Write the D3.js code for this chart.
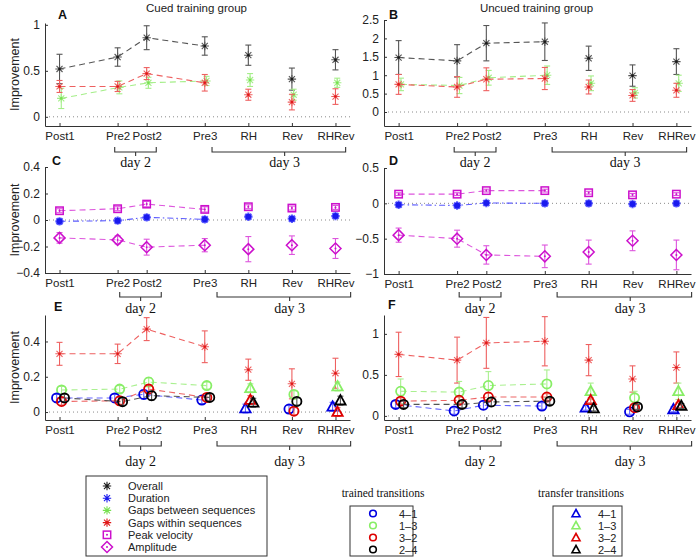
<!DOCTYPE html>
<html><head><meta charset="utf-8">
<script src="https://cdn.jsdelivr.net/npm/d3@7"></script>
<style>body{margin:0;background:#fff}svg{display:block}</style>
</head><body>
<svg id="chart" width="699" height="559"></svg>
<script>
// ---------------- DATA ----------------
const categories = ["Post1","Pre2","Post2","Pre3","RH","Rev","RHRev"];
const xPositions = [1,3,4,6,7.5,9,10.5];
const transitionKind = ["trained","trained","trained","trained","transfer","trained","transfer"];

// Panel A (cued) / B (uncued)
const overallCued = [0.52,0.65,0.86,0.77,0.67,0.41,0.62];
const overallCuedErr = [0.16,0.10,0.13,0.10,0.11,0.12,0.11];
const betweenCued = [0.20,0.32,0.37,0.39,0.40,0.24,0.37];
const betweenCuedErr = [0.11,0.07,0.06,0.05,0.07,0.06,0.05];
const withinCued = [0.33,0.33,0.47,0.37,0.24,0.16,0.22];
const withinCuedErr = [0.065,0.055,0.065,0.09,0.06,0.085,0.085];

const overallUncued = [1.48,1.39,1.87,1.91,1.46,0.99,1.37];
const overallUncuedErr = [0.46,0.44,0.48,0.51,0.33,0.29,0.35];
const betweenUncued = [0.75,0.72,0.93,1.00,0.78,0.52,0.78];
const betweenUncuedErr = [0.17,0.22,0.20,0.25,0.20,0.14,0.22];
const withinUncued = [0.75,0.68,0.89,0.91,0.68,0.45,0.59];
const withinUncuedErr = [0.27,0.28,0.31,0.30,0.19,0.16,0.19];

// Panel C (cued) / D (uncued)
const peakCued = [0.07,0.085,0.12,0.08,0.10,0.09,0.095];
const peakCuedErr = [0.015,0.015,0.02,0.02,0.015,0.015,0.015];
const durationCued = [-0.01,-0.005,0.02,0.005,0.025,0.01,0.03];
const durationCuedErr = [0.01,0.01,0.01,0.01,0.01,0.01,0.01];
const amplitudeCued = [-0.135,-0.15,-0.205,-0.19,-0.22,-0.19,-0.215];
const amplitudeCuedErr = [0.04,0.03,0.06,0.05,0.095,0.07,0.075];

const peakUncued = [0.13,0.13,0.18,0.18,0.15,0.12,0.13];
const peakUncuedErr = [0.02,0.02,0.02,0.02,0.02,0.02,0.02];
const durationUncued = [-0.02,-0.03,0.005,0.0,0.0,-0.01,0.0];
const durationUncuedErr = [0.015,0.015,0.015,0.015,0.015,0.015,0.015];
const amplitudeUncued = [-0.45,-0.50,-0.73,-0.75,-0.69,-0.53,-0.73];
const amplitudeUncuedErr = [0.10,0.12,0.13,0.16,0.17,0.14,0.21];

// Panel E (cued) / F (uncued) transitions
const t41Cued = [0.08,0.08,0.10,0.068,0.02,0.017,0.03];
const t13Cued = [0.125,0.13,0.17,0.15,0.135,0.10,0.145];
const t32Cued = [0.06,0.064,0.13,0.083,0.068,0.005,0.0];
const t24Cued = [0.08,0.059,0.093,0.083,0.053,0.06,0.065];
const tCuedErr = [0.02,0.02,0.025,0.02,0.025,0.02,0.025];

const t41Uncued = [0.14,0.06,0.13,0.12,0.10,0.05,0.08];
const t13Uncued = [0.30,0.29,0.37,0.39,0.30,0.22,0.30];
const t13UncuedErr = [0.15,0.13,0.17,0.17,0.10,0.08,0.10];
const t32Uncued = [0.18,0.19,0.23,0.23,0.19,0.10,0.13];
const t24Uncued = [0.14,0.14,0.17,0.18,0.09,0.11,0.12];
const tUncuedErr = [0.04,0.04,0.05,0.04,0.03,0.03,0.03];

// ticks
const ticksA = [0,0.5,1];
const ticksB = [0,0.5,1,1.5,2,2.5];
const ticksC = [-0.4,-0.2,0,0.2,0.4];
const ticksD = [-1,-0.5,0,0.5];
const ticksE = [0,0.2,0.4];
const ticksF = [0,0.5,1];

const mainLegendLabels = ["Overall","Duration","Gaps between sequences","Gaps within sequences","Peak velocity","Amplitude"];
const transitionLabels = ["4\u20131","1\u20133","3\u20132","2\u20134"];

// ---------------- STYLE ----------------
const C = {
  black:{m:"#1a1a1a", l:"#555555"},
  blue:{m:"#1a1aee", l:"#5a5aff"},
  green:{m:"#77e050", l:"#a4ee88"},
  red:{m:"#e01818", l:"#ee6060"},
  magenta:{m:"#cc10cc", l:"#dd55dd"},
  tblue:{m:"#0000e0", l:"#6666ff"},
  tgreen:{m:"#88ee66", l:"#aaf090"},
  tred:{m:"#dd0000", l:"#ee6666"},
  tblack:{m:"#000000", l:"#555555"}
};
const FONT = "Liberation Sans, Arial, Helvetica, sans-serif";
const SERIF = "Liberation Serif, Times New Roman, serif";

const svg = d3.select("#chart");

function xScale(col){ return d3.scaleLinear().domain([0.5,11]).range(col===0?[45,350]:[384,691]); }

function drawMarker(g, type, cx, cy, col, big){
  const m = col.m, l = col.l;
  if(type==="star"){
    const s = 4.2, d = s*0.72;
    const p = `M${cx-s},${cy}L${cx+s},${cy}M${cx},${cy-s}L${cx},${cy+s}M${cx-d},${cy-d}L${cx+d},${cy+d}M${cx-d},${cy+d}L${cx+d},${cy-d}`;
    g.append("path").attr("d",p).attr("stroke",l).attr("stroke-width",big?2.2:1.1).attr("fill","none");
    g.append("circle").attr("cx",cx).attr("cy",cy).attr("r",big?3:1.3).attr("fill",m);
  } else if(type==="square"){
    g.append("rect").attr("x",cx-3.7).attr("y",cy-3.7).attr("width",7.4).attr("height",7.4)
      .attr("fill","none").attr("stroke",m).attr("stroke-width",1.5);
    g.append("circle").attr("cx",cx).attr("cy",cy).attr("r",1).attr("fill",m);
  } else if(type==="diamond"){
    const s=5.5;
    g.append("path").attr("d",`M${cx},${cy-s}L${cx+s},${cy}L${cx},${cy+s}L${cx-s},${cy}Z`)
      .attr("fill","none").attr("stroke",m).attr("stroke-width",1.5);
    g.append("circle").attr("cx",cx).attr("cy",cy).attr("r",1).attr("fill",m);
  } else if(type==="circle"){
    g.append("circle").attr("cx",cx).attr("cy",cy).attr("r",4.6)
      .attr("fill","none").attr("stroke",m).attr("stroke-width",1.8);
  } else if(type==="triangle"){
    const s=5.2;
    g.append("path").attr("d",`M${cx},${cy-s*1.05}L${cx+s},${cy+s*0.75}L${cx-s},${cy+s*0.75}Z`)
      .attr("fill","none").attr("stroke",m).attr("stroke-width",1.8);
  }
}

function drawSeries(g, x, y, s){
  const pts = s.values.map((v,i)=>({x:x(xPositions[i]+s.offset), y:y(v), e:s.errors[i], v:v, i:i}));
  const line = d3.line().x(d=>d.x).y(d=>d.y);
  g.append("path").attr("d",line(pts.slice(0,4))).attr("fill","none")
    .attr("stroke",s.col.l).attr("stroke-width",1.1).attr("stroke-dasharray",s.dash||"6,4");
  pts.forEach(p=>{
    const y1=y(p.v+p.e), y2=y(p.v-p.e);
    g.append("line").attr("x1",p.x).attr("x2",p.x).attr("y1",y1).attr("y2",y2).attr("stroke",s.col.l).attr("stroke-width",1.1);
    [y1,y2].forEach(yy=>g.append("line").attr("x1",p.x-3).attr("x2",p.x+3).attr("y1",yy).attr("y2",yy).attr("stroke",s.col.l).attr("stroke-width",1.1));
  });
  pts.forEach(p=>{
    const type = s.markerFn ? s.markerFn(p.i) : s.marker;
    drawMarker(g, type, p.x, p.y, s.col, s.big);
  });
}

const rows = [
  {bar:152, text:167, shift:0},
  {bar:297, text:313, shift:5},
  {bar:446, text:466, shift:5}
];

const tm = i => transitionKind[i]==="trained" ? "circle" : "triangle";

const panels = [
  {letter:"A", col:0, row:0, range:[126,23], domain:[-0.1,1.02], ticks:ticksA, title:"Cued training group", ylabel:true, lx:58, ly:19,
   series:[
     {values:overallCued, errors:overallCuedErr, col:C.black, marker:"star", offset:0},
     {values:betweenCued, errors:betweenCuedErr, col:C.green, marker:"star", offset:0.06},
     {values:withinCued, errors:withinCuedErr, col:C.red, marker:"star", offset:0}
   ]},
  {letter:"B", col:1, row:0, range:[126,20], domain:[-0.38,2.5], ticks:ticksB, title:"Uncued training group", ylabel:false, lx:389, ly:19,
   series:[
     {values:overallUncued, errors:overallUncuedErr, col:C.black, marker:"star", offset:0},
     {values:betweenUncued, errors:betweenUncuedErr, col:C.green, marker:"star", offset:0.08},
     {values:withinUncued, errors:withinUncuedErr, col:C.red, marker:"star", offset:0}
   ]},
  {letter:"C", col:0, row:1, range:[273,167], domain:[-0.4,0.4], ticks:ticksC, ylabel:true, lx:52, ly:165,
   series:[
     {values:peakCued, errors:peakCuedErr, col:C.magenta, marker:"square", offset:0},
     {values:durationCued, errors:durationCuedErr, col:C.blue, marker:"star", big:true, offset:0, dash:"6,3,1.5,3"},
     {values:amplitudeCued, errors:amplitudeCuedErr, col:C.magenta, marker:"diamond", offset:0}
   ]},
  {letter:"D", col:1, row:1, range:[274,168], domain:[-1,0.5], ticks:ticksD, ylabel:false, lx:389, ly:165,
   series:[
     {values:peakUncued, errors:peakUncuedErr, col:C.magenta, marker:"square", offset:0},
     {values:durationUncued, errors:durationUncuedErr, col:C.blue, marker:"star", big:true, offset:0, dash:"6,3,1.5,3"},
     {values:amplitudeUncued, errors:amplitudeUncuedErr, col:C.magenta, marker:"diamond", offset:0}
   ]},
  {letter:"E", col:0, row:2, range:[420,315], domain:[-0.045,0.55], ticks:ticksE, ylabel:true, lx:54, ly:311,
   series:[
     {values:withinCued, errors:withinCuedErr, col:C.red, marker:"star", offset:0},
     {values:t13Cued, errors:tCuedErr, col:C.tgreen, markerFn:tm, offset:0.07},
     {values:t41Cued, errors:tCuedErr, col:C.tblue, markerFn:tm, offset:-0.1},
     {values:t32Cued, errors:tCuedErr, col:C.tred, markerFn:tm, offset:0.07},
     {values:t24Cued, errors:tCuedErr, col:C.tblack, markerFn:tm, offset:0.17}
   ]},
  {letter:"F", col:1, row:2, range:[420,315], domain:[-0.05,1.23], ticks:ticksF, ylabel:false, lx:388, ly:309,
   series:[
     {values:withinUncued, errors:withinUncuedErr, col:C.red, marker:"star", offset:0},
     {values:t13Uncued, errors:t13UncuedErr, col:C.tgreen, markerFn:tm, offset:0.07},
     {values:t41Uncued, errors:tUncuedErr, col:C.tblue, markerFn:tm, offset:-0.1},
     {values:t32Uncued, errors:tUncuedErr, col:C.tred, markerFn:tm, offset:0.07},
     {values:t24Uncued, errors:tUncuedErr, col:C.tblack, markerFn:tm, offset:0.17}
   ]}
];

const fmt = d3.format("~g");

panels.forEach(P=>{
  const x = xScale(P.col);
  const y = d3.scaleLinear().domain(P.domain).range(P.range);
  const g = svg.append("g");
  const xr = x.range();
  const yb = P.range[0];

  g.append("line").attr("x1",xr[0]).attr("x2",xr[1]).attr("y1",y(0)).attr("y2",y(0))
    .attr("stroke","#8a8a8a").attr("stroke-width",1).attr("stroke-dasharray","1,3");

  const ya = d3.axisLeft(y).tickValues(P.ticks).tickFormat(fmt).tickSizeInner(-3).tickSizeOuter(0).tickPadding(5);
  const gy = g.append("g").attr("transform",`translate(${xr[0]},0)`).call(ya);
  const xa = d3.axisBottom(x).tickValues(xPositions).tickFormat((d,i)=>categories[i]).tickSizeInner(-3).tickSizeOuter(0).tickPadding(6);
  const gx = g.append("g").attr("transform",`translate(0,${yb})`).call(xa);
  [gx,gy].forEach(a=>{
    a.selectAll("path,line").attr("stroke","#333").attr("stroke-width",1);
    a.selectAll("text").attr("font-family",FONT).attr("font-size",11.5).attr("fill","#222");
  });
  gy.selectAll("text").attr("font-size",12);

  P.series.forEach(s=>drawSeries(g, x, y, s));

  g.append("text").attr("x",P.lx).attr("y",P.ly).text(P.letter)
    .attr("font-family",FONT).attr("font-weight","bold").attr("font-size",12.5).attr("fill","#111");
  if(P.title){
    g.append("text").attr("x",(xr[0]+xr[1])/2-1).attr("y",12).attr("text-anchor","middle").text(P.title)
      .attr("font-family",FONT).attr("font-size",11.5).attr("fill","#222");
  }
  if(P.ylabel){
    g.append("text").attr("transform",`translate(19,${(P.range[0]+P.range[1])/2}) rotate(-90)`)
      .attr("text-anchor","middle").text("Improvement")
      .attr("font-family",FONT).attr("font-size",12.5).attr("fill","#222");
  }

  const R = rows[P.row];
  const brackets = [
    {a:2.9, b:4.33, t:3.62, label:"day 2"},
    {a:6.25, b:10.85, t:8.75, label:"day 3"}
  ];
  brackets.forEach(br=>{
    const xa_ = x(br.a)+R.shift, xb_ = x(br.b)+R.shift, xt = x(br.t)+R.shift;
    g.append("path").attr("d",`M${xa_},${R.bar-5}L${xa_},${R.bar}L${xb_},${R.bar}L${xb_},${R.bar-5}M${xt},${R.bar}L${xt},${R.bar+4}`)
      .attr("fill","none").attr("stroke","#333").attr("stroke-width",1.1);
    g.append("text").attr("x",xt).attr("y",R.text).attr("text-anchor","middle").text(br.label)
      .attr("font-family",SERIF).attr("font-size",14).attr("fill","#111");
  });
});

// ---------------- LEGENDS ----------------
const lg = svg.append("g");
const mainCols = [C.black, C.blue, C.green, C.red, C.magenta, C.magenta];
const mainMarks = ["star","star","star","star","square","diamond"];
lg.append("rect").attr("x",86).attr("y",476).attr("width",181).attr("height",80)
  .attr("fill","#fff").attr("stroke","#333").attr("stroke-width",1);
mainLegendLabels.forEach((t,i)=>{
  const yy = 486 + i*12.2;
  const gg = lg.append("g");
  if(mainMarks[i]==="star"){
    const col = mainCols[i];
    drawMarker(gg,"star",107,yy,{m:col.m,l:col.m},false);
  } else drawMarker(gg,mainMarks[i],107,yy,mainCols[i],false);
  lg.append("text").attr("x",128).attr("y",yy+4).text(t).attr("font-family",FONT).attr("font-size",11).attr("fill","#222");
});

const tCols = [C.tblue, C.tgreen, C.tred, C.tblack];
[{title:"trained transitions", cx:383, bx:350, type:"circle"},
 {title:"transfer transitions", cx:581, bx:553, type:"triangle"}].forEach(L=>{
  lg.append("text").attr("x",L.cx).attr("y",497).attr("text-anchor","middle").text(L.title)
    .attr("font-family",SERIF).attr("font-size",11.5).attr("fill","#111");
  lg.append("rect").attr("x",L.bx).attr("y",506).attr("width",L.type==="circle"?63:69).attr("height",50)
    .attr("fill","#fff").attr("stroke","#333").attr("stroke-width",1);
  transitionLabels.forEach((t,i)=>{
    const yy = 513.5 + i*12;
    const gg = lg.append("g");
    if(L.type==="circle"){
      gg.append("circle").attr("cx",L.bx+23).attr("cy",yy).attr("r",3.3).attr("fill","none").attr("stroke",tCols[i].m).attr("stroke-width",1.6);
    } else {
      const cx=L.bx+23, s=4;
      gg.append("path").attr("d",`M${cx},${yy-s}L${cx+s},${yy+s*0.8}L${cx-s},${yy+s*0.8}Z`).attr("fill","none").attr("stroke",tCols[i].m).attr("stroke-width",1.6);
    }
    lg.append("text").attr("x",L.bx+(L.type==="circle"?49:45)).attr("y",yy+4).text(t)
      .attr("font-family",FONT).attr("font-size",11).attr("fill","#222");
  });
});
</script>
</body></html>
